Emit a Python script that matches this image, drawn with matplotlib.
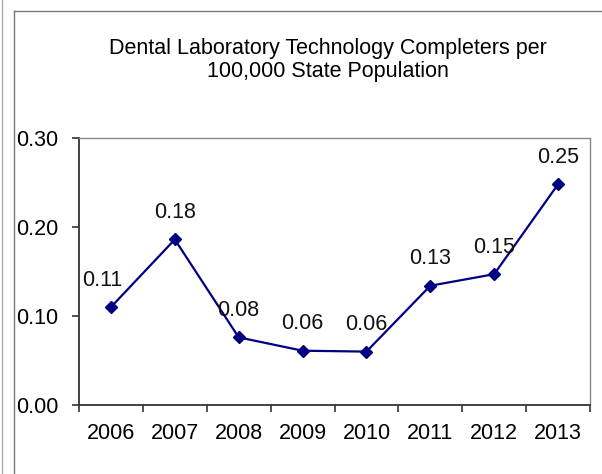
import matplotlib
matplotlib.use("Agg")
import matplotlib.pyplot as plt
from matplotlib.lines import Line2D
from matplotlib.ticker import FormatStrFormatter, MultipleLocator

plt.rcParams['font.family'] = ['Liberation Sans', 'DejaVu Sans']

years = ['2006', '2007', '2008', '2009', '2010', '2011', '2012', '2013']
completers = [0.110, 0.186, 0.076, 0.061, 0.060, 0.134, 0.147, 0.248]
labels = ['0.11', '0.18', '0.08', '0.06', '0.06', '0.13', '0.15', '0.25']

W, H = 602, 474
fig = plt.figure(figsize=(W / 100, H / 100), dpi=100)
ax = fig.add_axes([79 / W, 1 - 405 / H, 511 / W, 267 / H])

fs = 15.5
x = list(range(len(years)))
ax.plot(x, completers, color='#000080', lw=1.6, marker='D', ms=6.5, zorder=3)
for i, (v, t) in enumerate(zip(completers, labels)):
    dx = -6 if i == 0 else 0
    ax.annotate(t, (i, v), xytext=(dx, 19.5), textcoords='offset points',
                ha='center', va='center', fontsize=fs, color='#111111')

ax.set_xlim(-0.5, len(years) - 0.5)
ax.set_ylim(0, 0.30)
ax.yaxis.set_major_locator(MultipleLocator(0.10))
ax.yaxis.set_major_formatter(FormatStrFormatter('%.2f'))
ax.set_xticks(x)
ax.set_xticklabels(years)
ax.set_xticks([i - 0.5 for i in range(len(years) + 1)], minor=True)
ax.tick_params(axis='x', which='major', length=0, pad=13, labelsize=fs)
ax.tick_params(axis='x', which='minor', length=5, width=1.2, color='#333333')
ax.tick_params(axis='y', length=5, width=1.2, color='#333333', pad=10, labelsize=fs)

for s in ['left', 'bottom']:
    ax.spines[s].set_color('#333333')
    ax.spines[s].set_linewidth(1.3)
for s in ['top', 'right']:
    ax.spines[s].set_color('#888888')
    ax.spines[s].set_linewidth(1.0)

fig.text(328 / W, 1 - 60 / H,
         'Dental Laboratory Technology Completers per\n100,000 State Population',
         ha='center', va='center', fontsize=fs, linespacing=1.1)

# outer frame lines
fig.add_artist(Line2D([1.5 / W, 1.5 / W], [0, 1], color='#aaaaaa', lw=1))
fig.add_artist(Line2D([13.5 / W, 13.5 / W], [0, 1 - 11 / H], color='#777777', lw=1))
fig.add_artist(Line2D([13.5 / W, 1], [1 - 11 / H, 1 - 11 / H], color='#777777', lw=1))

fig.savefig('out.png', dpi=100)
